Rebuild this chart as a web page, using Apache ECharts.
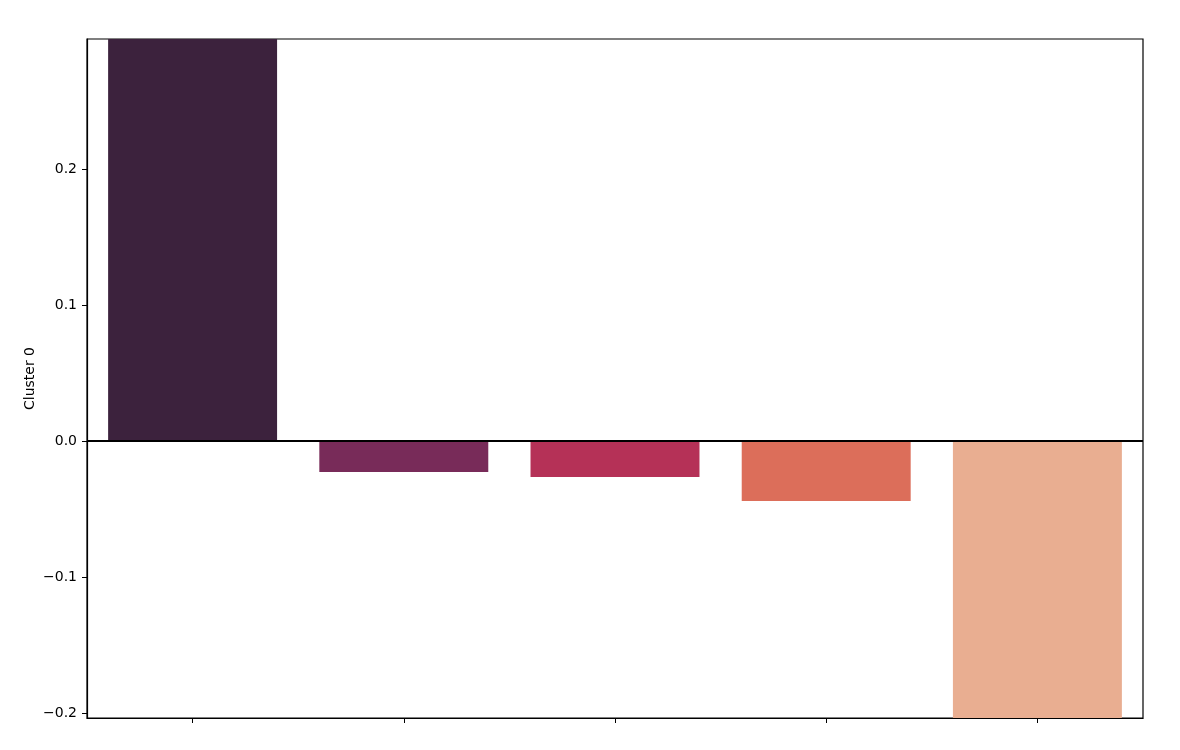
<!DOCTYPE html>
<html>
<head>
<meta charset="utf-8">
<script src="https://cdn.jsdelivr.net/npm/echarts@6/dist/echarts.min.js"></script>
<style>html,body{margin:0;padding:0;background:#fff}#c{width:1180px;height:750px}</style>
</head>
<body>
<div id="c"></div>
<script>
const categories = ['A', 'B', 'C', 'D', 'E'];
const values = [0.2956, -0.0228, -0.0265, -0.0441, -0.2037];
const barColors = ['#3c223d', '#782b59', '#b53157', '#dc6e5a', '#e9ae91'];
const yTicks = [-0.2, -0.1, 0.0, 0.1, 0.2];
const yMin = -0.2037, yMax = 0.2956;
const yName = 'Cluster 0';

const chart = echarts.init(document.getElementById('c'), null, {renderer: 'canvas'});
const font = 'DejaVu Sans';
chart.setOption({
  animation: false,
  grid: {left: 87, right: 37, top: 39, bottom: 32, show: true, borderColor: '#000', borderWidth: 1.2, backgroundColor: 'transparent'},
  xAxis: {
    type: 'category', data: categories,
    axisLine: {show: true, onZero: false, lineStyle: {color: '#000', width: 1.2}},
    axisTick: {show: true, alignWithLabel: true, inside: false, length: 5, lineStyle: {color: '#000', width: 1}},
    axisLabel: {show: false},
    splitLine: {show: false}
  },
  yAxis: {
    type: 'value', min: yMin, max: yMax,
    name: yName, nameLocation: 'middle', nameGap: 50, nameRotate: 90, nameMoveOverlap: false,
    nameTextStyle: {fontFamily: font, fontSize: 14, color: '#000'},
    axisLine: {show: true, onZero: false, lineStyle: {color: '#000', width: 1.2}},
    axisTick: {show: true, inside: false, length: 5, customValues: yTicks, lineStyle: {color: '#000', width: 1}},
    axisLabel: {show: true, customValues: yTicks, margin: 10, fontFamily: font, fontSize: 14, color: '#000',
      formatter: v => v.toFixed(1).replace('-', '\u2212')},
    splitLine: {show: false}
  },
  series: [{
    type: 'bar',
    data: values.map((v, i) => ({value: v, itemStyle: {color: barColors[i]}})),
    barCategoryGap: '20%',
    markLine: {
      silent: true, symbol: 'none',
      label: {show: false},
      lineStyle: {color: '#000', width: 2, type: 'solid'},
      data: [{yAxis: 0}]
    }
  }]
});
</script>
</body>
</html>
